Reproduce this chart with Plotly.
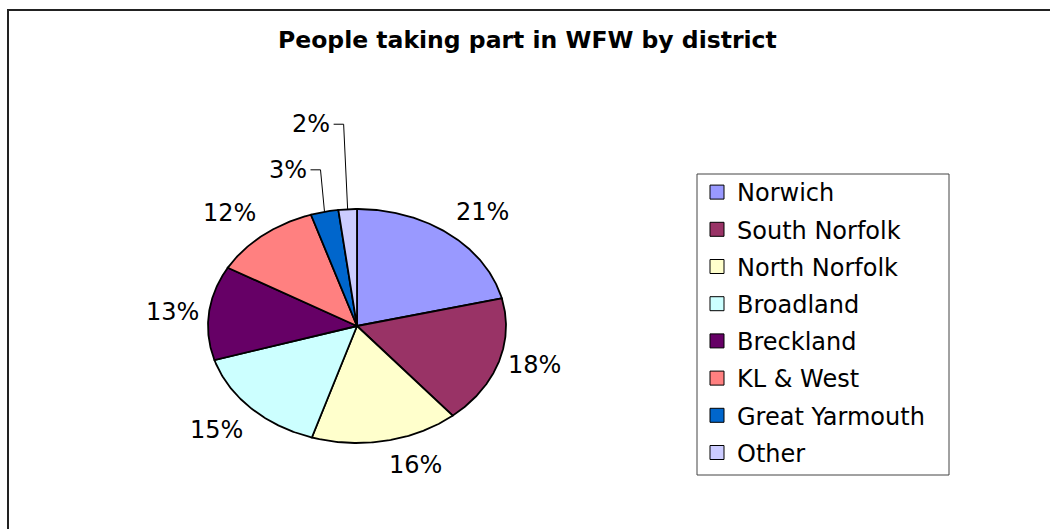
import numpy as np
import plotly.graph_objects as go

# Data
districts = ["Norwich", "South Norfolk", "North Norfolk", "Broadland",
             "Breckland", "KL & West", "Great Yarmouth", "Other"]
shares = [21.2, 17.7, 16.0, 15.4, 13.0, 11.7, 3.0, 2.0]
colors = ["#9999FF", "#993366", "#FFFFCC", "#CCFFFF",
          "#660066", "#FF8080", "#0066CC", "#CCCCFF"]
title_text = "People taking part in WFW by district"

# Layout constants (pixels of the 1050x529 page)
W, H = 1050, 529
CX, CY = 357, 326          # pie centre
RX, RY = 149, 117          # pie radii (the picture is stretched sideways)
FONT = "DejaVu Sans"

x_range = [-CX / RX, (W - CX) / RX]
y_range = [-(H - CY) / RY, CY / RY]

fig = go.Figure()

total = sum(shares)
start = 0.0
annotations = []
shapes = []
small_rises = [42, 85]   # leader line heights for thin slices, px
small_idx = 0
for name, val, col in zip(districts, shares, colors):
    frac = val / total
    t = np.linspace(2 * np.pi * start, 2 * np.pi * (start + frac), max(3, int(frac * 720)))
    xs = np.concatenate([[0], np.sin(t), [0]])
    ys = np.concatenate([[0], np.cos(t), [0]])
    fig.add_trace(go.Scatter(
        x=xs, y=ys, mode="lines", fill="toself", fillcolor=col,
        line=dict(color="black", width=1.8), showlegend=False, hoverinfo="skip"))
    # legend swatch
    fig.add_trace(go.Scatter(
        x=[None], y=[None], mode="markers", name=name, legendgroup=name,
        marker=dict(symbol="square", size=14, color=col, line=dict(color="black", width=1))))

    mid = 2 * np.pi * (start + frac / 2)
    s, c = np.sin(mid), np.cos(mid)
    txt = f"{round(frac * 100)}%"
    if frac < 0.05:
        rise = small_rises[min(small_idx, len(small_rises) - 1)]
        small_idx += 1
        ex, ey = s - 4 / RX, c + rise / RY
        hx = ex - 10 / RX
        shapes.append(dict(type="path", xref="x", yref="y",
                           path=f"M {s},{c} L {ex},{ey} L {hx},{ey}",
                           line=dict(color="black", width=1)))
        annotations.append(dict(x=hx, y=ey, xref="x", yref="y", text=txt, showarrow=False,
                                xanchor="right", yanchor="middle", xshift=-2,
                                font=dict(family=FONT, size=24, color="black")))
    else:
        xa = "left" if s > 0.15 else ("right" if s < -0.15 else "center")
        ya = "bottom" if c > 0.35 else ("top" if c < -0.35 else "middle")
        annotations.append(dict(x=s, y=c, xref="x", yref="y", text=txt, showarrow=False,
                                xanchor=xa, yanchor=ya, xshift=8 * s, yshift=8 * c,
                                font=dict(family=FONT, size=24, color="black")))
    start += frac

annotations.append(dict(x=527 / W, y=1 - 40 / H, xref="paper", yref="paper",
                        text=f"<b>{title_text}</b>", showarrow=False,
                        xanchor="center", yanchor="middle",
                        font=dict(family=FONT, size=23.5, color="black")))

# outer frame (left and top edges) and legend box
shapes.append(dict(type="path", xref="paper", yref="paper",
                   path=f"M {8 / W},0 L {8 / W},{1 - 10 / H} L 1,{1 - 10 / H}",
                   line=dict(color="#222222", width=2)))
shapes.append(dict(type="rect", xref="paper", yref="paper",
                   x0=697 / W, x1=949 / W, y0=1 - 475 / H, y1=1 - 174 / H,
                   line=dict(color="#444444", width=1)))

fig.update_layout(
    width=W, height=H,
    margin=dict(l=0, r=0, t=0, b=0),
    paper_bgcolor="white", plot_bgcolor="white",
    xaxis=dict(range=x_range, visible=False, fixedrange=True),
    yaxis=dict(range=y_range, visible=False, fixedrange=True),
    showlegend=True,
    legend=dict(x=697 / W, y=1 - 170 / H, xanchor="left", yanchor="top",
                bgcolor="rgba(0,0,0,0)", borderwidth=0, tracegroupgap=3,
                font=dict(family=FONT, size=24, color="black")),
    annotations=annotations,
    shapes=shapes,
)

# page body has an 8px default margin; drop it so the chart sits at the window origin
fig.write_html("out.html", config={"displayModeBar": False},
               post_script="document.body.style.margin='0';")
